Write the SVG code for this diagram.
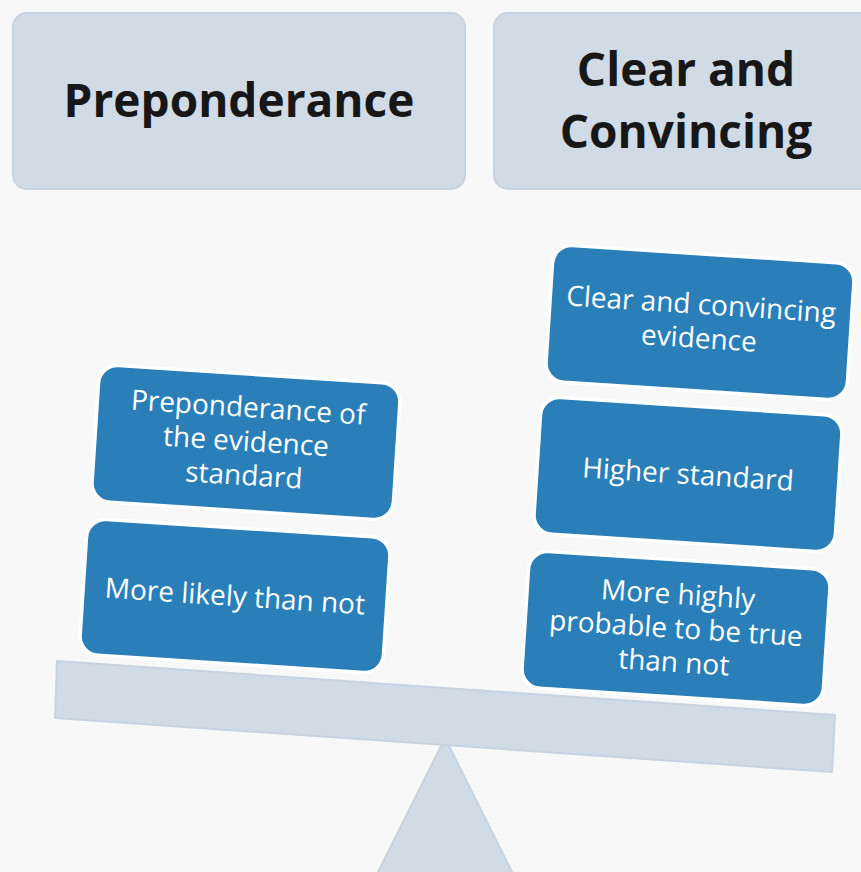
<svg xmlns="http://www.w3.org/2000/svg" width="861" height="872" viewBox="0 0 861 872">
<style>
.hdr{fill:#d1dbe6;stroke:#c7d3e1;stroke-width:2}
.ht{font-family:"Open Sans","DejaVu Sans",sans-serif;font-weight:bold;font-size:46px;fill:#171717;text-anchor:middle}
.box{fill:#2a7fb9;stroke:#ffffff;stroke-width:3.5}
.bt{font-family:"Open Sans","DejaVu Sans",sans-serif;font-size:28px;fill:#ffffff;text-anchor:middle}
.base{fill:#d1dbe6;stroke:#c7d3e1;stroke-width:2}
</style>
<rect width="861" height="872" fill="#f8f8f8"/>
<g id="header-preponderance">
<rect class="hdr" x="13" y="13" width="452" height="176" rx="14"/>
<text class="ht" x="239" y="117">Preponderance</text>
</g>
<g id="header-clear">
<rect class="hdr" x="494" y="13" width="452" height="176" rx="14"/>
<text class="ht" x="686" y="86">Clear and</text>
<text class="ht" x="686" y="148">Convincing</text>
</g>
<g id="fulcrum">
<polygon class="base" points="445,738 374,880 516,880"/>
</g>
<g id="beam">
<polygon class="base" points="57,661 835,715 832,772 55,718" stroke-linejoin="round"/>
</g>
<g id="left-top" transform="translate(246,442) rotate(3.7)">
<rect class="box" x="-151" y="-68" width="302" height="137" rx="19"/>
<text class="bt" x="0" y="-25">Preponderance of</text>
<text class="bt" x="0" y="9">the evidence</text>
<text class="bt" x="0" y="43">standard</text>
</g>
<g id="left-bottom" transform="translate(235,596) rotate(3.7)">
<rect class="box" x="-152" y="-68" width="304" height="136" rx="19"/>
<text class="bt" x="0" y="10">More likely than not</text>
</g>
<g id="right-top" transform="translate(700,322) rotate(3.7)">
<rect class="box" x="-151" y="-68" width="302" height="137" rx="19"/>
<text class="bt" x="0" y="-8">Clear and convincing</text>
<text class="bt" x="0" y="26">evidence</text>
</g>
<g id="right-middle" transform="translate(688,474) rotate(3.7)">
<rect class="box" x="-151" y="-68" width="302" height="137" rx="19"/>
<text class="bt" x="0" y="10">Higher standard</text>
</g>
<g id="right-bottom" transform="translate(676,628) rotate(3.7)">
<rect class="box" x="-151" y="-68" width="302" height="137" rx="19"/>
<text class="bt" x="0" y="-24">More highly</text>
<text class="bt" x="0" y="10">probable to be true</text>
<text class="bt" x="0" y="44">than not</text>
</g>
<g id="connectors"></g>
</svg>
